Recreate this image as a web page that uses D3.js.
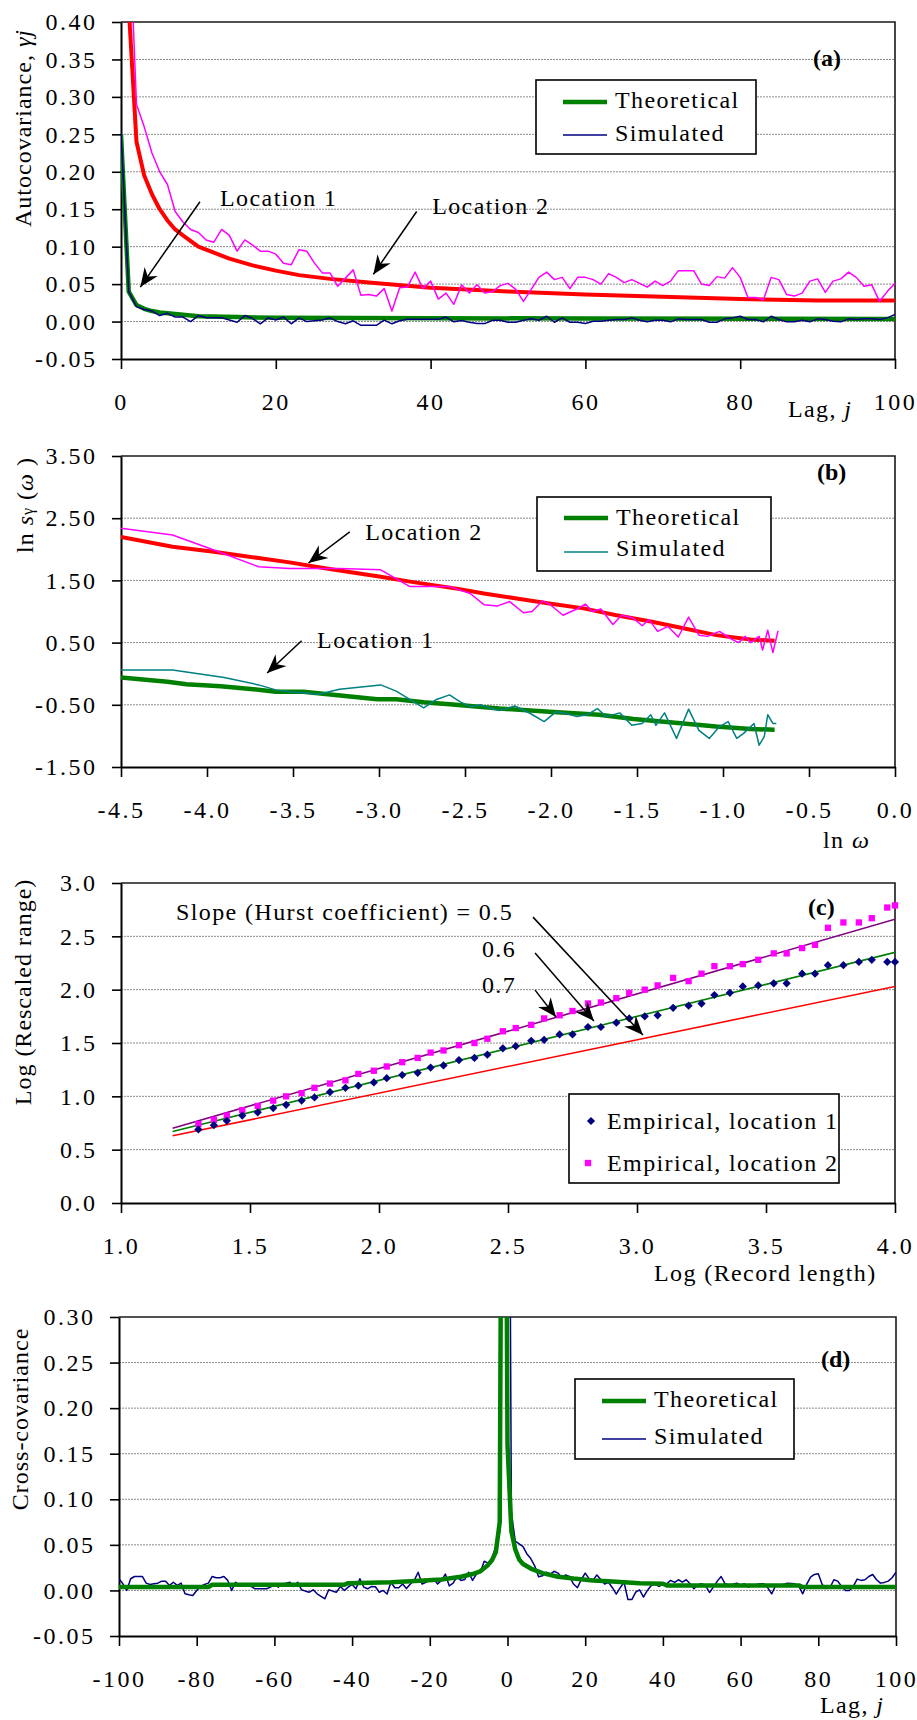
<!DOCTYPE html>
<html>
<head>
<meta charset="utf-8">
<script src="https://cdnjs.cloudflare.com/ajax/libs/d3/7.8.5/d3.min.js"></script>
<style>
  body { margin: 0; background: #fff; }
  svg { display: block; }
  svg text { font-family: "Liberation Serif", "Times New Roman", serif; font-size: 24px; fill: #000; }
</style>
</head>
<body>
<div id="chart"></div>
<script>
// ---------- panel (a): autocovariance ----------
var lagA = d3.range(0, 101);
var theoA1Lag = [0, 1, 2, 3, 4, 5, 6, 8, 10, 15, 20, 40, 60, 100];
var theoA1 = [0.25, 0.04, 0.022, 0.017, 0.014, 0.012, 0.011, 0.009, 0.007, 0.006, 0.005, 0.0045, 0.004, 0.0035];
var theoA2Lag = [0, 1, 2, 3, 4, 5, 6, 7, 8, 10, 12, 14, 17, 20, 23, 27, 32, 40, 50, 60, 70, 80, 90, 100];
var theoA2 = [1.0, 0.42, 0.24, 0.195, 0.17, 0.15, 0.135, 0.123, 0.115, 0.10, 0.092, 0.084, 0.075, 0.068, 0.062, 0.057, 0.052, 0.045, 0.040, 0.036, 0.033, 0.030, 0.028, 0.028];
var simA1 = [0.253, 0.04, 0.02, 0.016, 0.014, 0.008, 0.011, 0.006, 0.006, 0.0,
  0.008, 0.005, 0.005, 0.005, 0.002, -0.001, 0.008, 0.004, -0.003, 0.005,
  0.002, 0.006, -0.003, 0.005, 0.0, 0.001, 0.002, 0.005, 0.0, -0.003,
  0.001, -0.005, -0.005, -0.005, 0.002, -0.003, 0.001, 0.003, 0.003, 0.003,
  0.003, 0.003, 0.006,
  -0.0004, 0.0013, -0.0009, -0.0027, -0.0027, 0.0018, 0.0018, -0.0009, -0.0009, 0.0018,
  0.0036, 0.0018, 0.0071, -0.0009, 0.0049, -0.0009, -0.0009, -0.0027, 0.0004, 0.0004,
  0.0018, 0.0027, 0.0027, 0.0049, 0.0018, -0.0004, 0.0018, 0.0018, -0.0004, 0.0036,
  0.0027, 0.0027, 0.0027, -0.0009, -0.0009, 0.0036, 0.0049, 0.0071, 0.0027, 0.0027,
  -0.0004, 0.0071, 0.0027, -0.0004, -0.0004, 0.0018, -0.0004, 0.0036, 0.0027, 0.0004,
  -0.0004, 0.0036, 0.0027, 0.0036, 0.0036, 0.0027, 0.0049, 0.0094];
var simA2 = [1.0, 0.55, 0.29, 0.26, 0.225, 0.20, 0.183, 0.147, 0.133, 0.123,
  0.119, 0.109, 0.106, 0.123, 0.115, 0.094, 0.109, 0.102, 0.094, 0.094,
  0.09, 0.078, 0.076, 0.096, 0.094, 0.078, 0.065, 0.065, 0.047, 0.058,
  0.069, 0.035, 0.036, 0.034, 0.044, 0.014, 0.045, 0.046, 0.066, 0.044,
  0.054, 0.030, 0.038, 0.023, 0.049, 0.038, 0.049, 0.038, 0.040, 0.048,
  0.051, 0.043, 0.027, 0.043, 0.059, 0.066, 0.056, 0.059, 0.044, 0.059,
  0.059, 0.056, 0.050, 0.064, 0.059, 0.052, 0.056, 0.051, 0.046, 0.054,
  0.048, 0.054, 0.068, 0.068, 0.068, 0.050, 0.048, 0.060, 0.058, 0.072,
  0.059, 0.032, 0.032, 0.029, 0.059, 0.056, 0.036, 0.034, 0.038, 0.054,
  0.057, 0.039, 0.054, 0.057, 0.066, 0.059, 0.047, 0.049, 0.027, 0.040,
  0.051];
var xTicksA = [0, 20, 40, 60, 80, 100];
var yTicksA = [-0.05, 0, 0.05, 0.10, 0.15, 0.20, 0.25, 0.30, 0.35, 0.40];

// ---------- panel (b): log spectrum ----------
var theoB1X = [-4.5, -4.23, -4.12, -3.92, -3.73, -3.6, -3.44, -3.34, -3.01, -2.9, -2.74, -2.59, -2.3, -2.01, -1.72, -1.52, -1.23, -1.04, -0.84, -0.7];
var theoB1 = [-0.06, -0.13, -0.17, -0.2, -0.25, -0.29, -0.29, -0.32, -0.41, -0.41, -0.46, -0.49, -0.56, -0.61, -0.66, -0.73, -0.8, -0.85, -0.89, -0.9];
var theoB2X = [-4.5, -4.2, -3.96, -3.7, -3.52, -3.35, -3.23, -2.99, -2.82, -2.53, -2.39, -2.2, -2.01, -1.81, -1.62, -1.42, -1.23, -1.04, -0.84, -0.7];
var theoB2 = [2.20, 2.04, 1.96, 1.86, 1.79, 1.71, 1.66, 1.56, 1.48, 1.36, 1.29, 1.21, 1.13, 1.05, 0.94, 0.84, 0.73, 0.62, 0.55, 0.53];
var simB1X = [-4.5, -4.2, -3.9, -3.7, -3.6, -3.52, -3.35, -3.23, -2.99, -2.9, -2.74, -2.67, -2.59, -2.53, -2.47, -2.41, -2.35, -2.3, -2.21, -2.12,
  -2.04, -1.97, -1.91, -1.85, -1.79, -1.73, -1.68, -1.6, -1.53, -1.47, -1.42, -1.39, -1.34, -1.27, -1.2, -1.14, -1.08, -1.02, -0.97, -0.92,
  -0.88, -0.82, -0.79, -0.76, -0.74, -0.71, -0.69];
var simB1 = [0.06, 0.06, -0.06, -0.18, -0.26, -0.29, -0.33, -0.25, -0.18, -0.28, -0.55, -0.42, -0.34, -0.45, -0.53, -0.5, -0.56, -0.59, -0.52, -0.64,
  -0.77, -0.61, -0.64, -0.69, -0.66, -0.56, -0.69, -0.63, -0.83, -0.8, -0.66, -0.83, -0.63, -1.04, -0.57, -0.91, -1.04, -0.85, -0.77, -1.04,
  -0.96, -0.8, -1.15, -1.01, -0.66, -0.8, -0.8];
var simB2X = [-4.5, -4.2, -3.96, -3.7, -3.52, -3.23, -2.99, -2.82, -2.67, -2.59, -2.47, -2.39, -2.31, -2.24, -2.16, -2.11, -2.05, -2.01, -1.93, -1.85,
  -1.8, -1.76, -1.71, -1.64, -1.59, -1.52, -1.47, -1.43, -1.38, -1.32, -1.26, -1.2, -1.14, -1.09, -1.02, -0.96, -0.91, -0.87, -0.84, -0.79,
  -0.77, -0.74, -0.71, -0.68];
var simB2 = [2.34, 2.23, 1.99, 1.72, 1.69, 1.69, 1.67, 1.40, 1.40, 1.40, 1.29, 1.11, 1.09, 1.16, 0.98, 1.00, 1.17, 1.12, 0.94, 1.04,
  1.12, 1.00, 1.04, 0.79, 0.94, 0.89, 0.77, 0.87, 0.68, 0.76, 0.59, 0.91, 0.62, 0.60, 0.68, 0.57, 0.50, 0.60, 0.50, 0.60,
  0.38, 0.70, 0.34, 0.69];
var xTicksB = [-4.5, -4.0, -3.5, -3.0, -2.5, -2.0, -1.5, -1.0, -0.5, 0.0];
var yTicksB = [-1.5, -0.5, 0.5, 1.5, 2.5, 3.5];

// ---------- panel (c): rescaled range ----------
var logN = [1.30, 1.36, 1.41, 1.47, 1.53, 1.59, 1.64, 1.70, 1.75, 1.81, 1.87, 1.92, 1.98, 2.03, 2.09, 2.15, 2.20, 2.25, 2.31, 2.37,
  2.42, 2.48, 2.53, 2.59, 2.64, 2.70, 2.75, 2.81, 2.86, 2.92, 2.97, 3.03, 3.08, 3.14, 3.20, 3.25, 3.30, 3.36, 3.41, 3.47,
  3.53, 3.58, 3.64, 3.69, 3.74, 3.80, 3.86, 3.91, 3.97, 4.00];
var empC1 = [0.69, 0.73, 0.77, 0.82, 0.85, 0.89, 0.92, 0.96, 0.99, 1.04, 1.08, 1.10, 1.13, 1.17, 1.20, 1.22, 1.27, 1.29, 1.34, 1.36,
  1.39, 1.45, 1.47, 1.52, 1.53, 1.58, 1.58, 1.65, 1.65, 1.69, 1.73, 1.75, 1.76, 1.83, 1.85, 1.87, 1.95, 1.97, 2.03, 2.04,
  2.06, 2.06, 2.15, 2.15, 2.23, 2.23, 2.26, 2.28, 2.26, 2.26];
var empC2 = [0.74, 0.78, 0.82, 0.87, 0.91, 0.96, 1.00, 1.03, 1.08, 1.12, 1.15, 1.21, 1.24, 1.28, 1.32, 1.36, 1.41, 1.43, 1.48, 1.50,
  1.54, 1.61, 1.64, 1.67, 1.73, 1.76, 1.80, 1.87, 1.88, 1.92, 1.97, 2.00, 2.04, 2.11, 2.08, 2.15, 2.22, 2.22, 2.24, 2.28,
  2.34, 2.34, 2.39, 2.42, 2.58, 2.63, 2.63, 2.67, 2.77, 2.79];
var slopeX = [1.2, 4.0];
var slope05 = [0.63, 2.03];
var slope06 = [0.67, 2.35];
var slope07 = [0.70, 2.66];
var xTicksC = [1.0, 1.5, 2.0, 2.5, 3.0, 3.5, 4.0];
var yTicksC = [0.0, 0.5, 1.0, 1.5, 2.0, 2.5, 3.0];

// ---------- panel (d): cross-covariance ----------
var lagD = d3.range(-100, 101);
var theoDLag = [-100, -77, -76, -42, -41, -30, -25, -17, -12, -9, -7, -5, -4, -3, -2, -1, 0, 1, 2, 3, 4, 6, 9, 13, 17, 22, 26, 30, 34, 40, 41, 75, 76, 100];
var theoD = [0.0037, 0.0037, 0.0062, 0.0062, 0.008, 0.009, 0.010, 0.012, 0.015, 0.018, 0.021, 0.028, 0.033, 0.042, 0.075, 1.0, 0.16, 0.065, 0.045, 0.034, 0.029, 0.024, 0.019, 0.015, 0.013, 0.011, 0.010, 0.009, 0.008, 0.0073, 0.0055, 0.0055, 0.0037, 0.0037];
var simD = [0.0128, 0.0073, 0.0, 0.0128, 0.0153, 0.0153, 0.0153, 0.008, 0.0066, 0.0073,
  0.008, 0.0102, 0.0102, 0.0055, 0.009, 0.0055, 0.008, -0.0037, -0.0048, -0.0055,
  0.0, 0.0044, 0.0066, 0.008, 0.0153, 0.0139, 0.0139, 0.0153, 0.011, 0.0,
  0.009, 0.0055, 0.0073, 0.0055, 0.0044, 0.0018, 0.0018, 0.0018, 0.0018, 0.0036,
  0.0066, 0.0036, 0.0073, 0.008, 0.009, 0.0044, 0.009, 0.0007, -0.0008, -0.0019,
  0.0007, -0.0037, -0.0066, -0.0092, 0.0007, -0.0008, -0.0019, 0.0044, 0.0, 0.0036,
  0.0066, 0.0018, 0.0128, 0.0036, 0.0018, 0.0044,
  0.004, -0.002, 0.0, -0.004, 0.009, 0.003, 0.003, 0.007, 0.002, 0.007,
  0.011, 0.020, 0.007, 0.009, 0.011, 0.013, 0.007, 0.011, 0.018, 0.005,
  0.008, 0.015, 0.011, 0.012, 0.020, 0.011, 0.018, 0.020, 0.032, 0.030,
  0.036, 0.048, 0.064, 0.85,
  0.95,
  0.085, 0.054, 0.051, 0.048, 0.040, 0.035, 0.027, 0.015, 0.016, 0.020,
  0.018, 0.021, 0.019, 0.014, 0.017, 0.015, 0.007, 0.003, 0.012, 0.019,
  0.013, 0.011, 0.017, 0.012, 0.007, 0.009, 0.003, -0.004, 0.003, 0.009,
  -0.010, -0.010,
  -0.0019, 0.0007, -0.0073, 0.0, 0.0055, 0.0066, 0.0044, 0.0066, 0.0073, 0.011,
  0.0088, 0.0117, 0.0091, 0.0117, 0.0073, 0.0018, 0.0062, 0.0073, 0.0051, -0.0022,
  0.0036, 0.0102, 0.0153, 0.0073, 0.0062, 0.0069, 0.008, 0.0058, 0.0073, 0.0036,
  0.0055, 0.0062, 0.0073, 0.0073, 0.0029, -0.0037, 0.0051, 0.0044, 0.0066, 0.008,
  0.0077, 0.0073, 0.0044, -0.0037, 0.0066, 0.0146, 0.0175, 0.0183, 0.0066, 0.0022,
  0.0029, 0.0117, 0.0102, 0.0044, 0.0, 0.0, 0.0044, 0.0124, 0.011, 0.0117,
  0.0153, 0.0175, 0.0117, 0.008, 0.0088, 0.0102, 0.0139, 0.020];
var xTicksD = [-100, -80, -60, -40, -20, 0, 20, 40, 60, 80, 100];
var yTicksD = [-0.05, 0, 0.05, 0.10, 0.15, 0.20, 0.25, 0.30];

// ---------- drawing ----------
var svg = d3.select("#chart").append("svg").attr("width", 917).attr("height", 1720);
var defs = svg.append("defs");
defs.append("marker")
    .attr("id", "arrow")
    .attr("viewBox", "-21 -10 23 20")
    .attr("refX", 0).attr("refY", 0)
    .attr("markerWidth", 23).attr("markerHeight", 20)
    .attr("markerUnits", "userSpaceOnUse")
    .attr("orient", "auto")
  .append("path")
    .attr("d", "M0,0 L-19,-8 L-13,0 L-19,8 Z")
    .attr("fill", "#000");

var xA = d3.scaleLinear().domain([0, 100]).range([121, 895]);
var yA = d3.scaleLinear().domain([-0.05, 0.40]).range([359, 22]);
var xB = d3.scaleLinear().domain([-4.5, 0]).range([121, 895]);
var yB = d3.scaleLinear().domain([-1.5, 3.5]).range([767, 456]);
var xC = d3.scaleLinear().domain([1, 4]).range([121, 895]);
var yC = d3.scaleLinear().domain([0, 3]).range([1203, 883]);
var xD = d3.scaleLinear().domain([-100, 100]).range([119, 896]);
var yD = d3.scaleLinear().domain([-0.05, 0.30]).range([1636, 1317]);

function frame(name, x, y, xt, yt, grid, xf, yf) {
  var x0 = x.range()[0], x1 = x.range()[1];
  var y0 = y.range()[0], y1 = y.range()[1];
  var g = svg.append("g");

  g.selectAll("line.grid").data(grid).enter().append("line")
    .attr("class", "grid")
    .attr("x1", x0).attr("x2", x1)
    .attr("y1", function(d) { return y(d); })
    .attr("y2", function(d) { return y(d); })
    .attr("stroke", "#8a8a8a").attr("stroke-width", 1).attr("stroke-dasharray", "2,1");

  g.append("path")
    .attr("d", "M" + x0 + "," + y1 + "H" + x1 + "V" + y0)
    .attr("fill", "none").attr("stroke", "#1a1a1a").attr("stroke-width", 1.6);

  defs.append("clipPath").attr("id", "clip-" + name)
    .append("rect").attr("x", x0).attr("y", y1).attr("width", x1 - x0).attr("height", y0 - y1);

  var ax = g.append("g").attr("transform", "translate(0," + y0 + ")")
    .call(d3.axisBottom(x).tickValues(xt).tickFormat(xf).tickSize(10).tickSizeOuter(0).tickPadding(24));
  var ay = g.append("g").attr("transform", "translate(" + x0 + ",0)")
    .call(d3.axisLeft(y).tickValues(yt).tickFormat(yf).tickSize(9).tickSizeOuter(0).tickPadding(14.5));
  [ax, ay].forEach(function(a) {
    a.select(".domain").attr("stroke", "#000").attr("stroke-width", 2);
    a.selectAll(".tick line").attr("stroke", "#000").attr("stroke-width", 1.6);
    a.selectAll(".tick text")
      .attr("font-family", "Liberation Serif, serif")
      .attr("font-size", 24)
      .attr("letter-spacing", 2.5)
      .attr("fill", "#000");
  });
  return svg.append("g").attr("clip-path", "url(#clip-" + name + ")");
}

function series(g, xs, ys, x, y, color, width) {
  var pts = xs.map(function(d, i) { return [d, ys[i]]; });
  g.append("path")
    .datum(pts)
    .attr("fill", "none")
    .attr("stroke", color)
    .attr("stroke-width", width)
    .attr("stroke-linejoin", "round")
    .attr("d", d3.line().x(function(d) { return x(d[0]); }).y(function(d) { return y(d[1]); }));
}

function label(x, y, parts, opts) {
  opts = opts || {};
  var t = svg.append("text")
    .attr("x", x).attr("y", y)
    .attr("letter-spacing", opts.ls === undefined ? 1.4 : opts.ls)
    .attr("font-weight", opts.bold ? "bold" : null)
    .attr("text-anchor", opts.anchor || "start");
  if (opts.rotate) t.attr("transform", "rotate(-90," + x + "," + y + ")");
  parts.forEach(function(p) {
    var s = t.append("tspan").text(p.t);
    if (p.i) s.attr("font-style", "italic");
    if (p.fs) s.attr("font-size", p.fs);
  });
  return t;
}

function arrow(x, y, a) {
  svg.append("line")
    .attr("x1", x(a[0])).attr("y1", y(a[1]))
    .attr("x2", x(a[2])).attr("y2", y(a[3]))
    .attr("stroke", "#000").attr("stroke-width", 1.5)
    .attr("marker-end", "url(#arrow)");
}

function legendBox(x0, y0, w, h) {
  svg.append("rect").attr("x", x0).attr("y", y0).attr("width", w).attr("height", h)
    .attr("fill", "#fff").attr("stroke", "#000").attr("stroke-width", 1.6);
}

function lineLegend(x0, y0, w, h, l1, l2, simColor) {
  legendBox(x0, y0, w, h);
  var rows = [
    { name: "Theoretical", color: "#008000", width: 4.5, ly: l1[0], ty: l1[1] },
    { name: "Simulated", color: simColor, width: 1.6, ly: l2[0], ty: l2[1] }
  ];
  rows.forEach(function(r) {
    svg.append("line")
      .attr("x1", x0 + 27).attr("x2", x0 + 71)
      .attr("y1", r.ly).attr("y2", r.ly)
      .attr("stroke", r.color).attr("stroke-width", r.width);
    label(x0 + 79, r.ty, [{ t: r.name }]);
  });
}

var fmt2 = function(d) { return d.toFixed(2); };
var fmt1 = function(d) { return d.toFixed(1); };
var fmt0 = function(d) { return String(d); };

// ----- (a) -----
var gA = frame("a", xA, yA, xTicksA, yTicksA, [0, 0.05, 0.10, 0.15, 0.20, 0.25, 0.30, 0.35], fmt0, fmt2);
series(gA, theoA2Lag, theoA2, xA, yA, "#ff0000", 4);
series(gA, lagA, simA2, xA, yA, "#ff00ff", 1.5);
series(gA, theoA1Lag, theoA1, xA, yA, "#008000", 4.5);
series(gA, lagA, simA1, xA, yA, "#000080", 1.5);
lineLegend(536, 80, 220, 74, [102, 108], [135, 141], "#000080");
label(813, 66, [{ t: "(a)" }], { bold: true, ls: 0 });
label(xA(12.8), yA(0.154), [{ t: "Location 1" }]);
arrow(xA, yA, [10.2, 0.160, 2.5, 0.046]);
label(xA(40.2), yA(0.143), [{ t: "Location 2" }]);
arrow(xA, yA, [38.2, 0.147, 32.6, 0.063]);
label(31, 128, [{ t: "Autocovariance, " }, { t: "γj", i: true }], { rotate: true, anchor: "middle", ls: 1 });
label(788, 417, [{ t: "Lag, " }, { t: "j", i: true }]);

// ----- (b) -----
var gB = frame("b", xB, yB, xTicksB, yTicksB, [-0.5, 0.5, 1.5, 2.5], fmt1, fmt2);
series(gB, theoB2X, theoB2, xB, yB, "#ff0000", 4);
series(gB, simB2X, simB2, xB, yB, "#ff00ff", 1.5);
series(gB, theoB1X, theoB1, xB, yB, "#008000", 4.5);
series(gB, simB1X, simB1, xB, yB, "#008080", 1.5);
lineLegend(537, 497, 234, 74, [518, 525], [552, 556], "#008080");
label(817, 480, [{ t: "(b)" }], { bold: true, ls: 0 });
label(xB(-3.08), yB(2.15), [{ t: "Location 2" }]);
arrow(xB, yB, [-3.17, 2.28, -3.41, 1.78]);
label(xB(-3.36), yB(0.41), [{ t: "Location 1" }]);
arrow(xB, yB, [-3.45, 0.53, -3.65, 0.01]);
label(33, 505, [{ t: "ln " }, { t: "s", i: true }, { t: "γ", fs: 16 }, { t: " (" }, { t: "ω", i: true }, { t: " )" }], { rotate: true, anchor: "middle", ls: 1 });
label(823, 848, [{ t: "ln " }, { t: "ω", i: true }]);

// ----- (c) -----
var gC = frame("c", xC, yC, xTicksC, yTicksC, [0.5, 1.0, 1.5, 2.0, 2.5], fmt1, fmt1);
series(gC, slopeX, slope05, xC, yC, "#ff0000", 1.6);
series(gC, slopeX, slope06, xC, yC, "#008000", 1.6);
series(gC, slopeX, slope07, xC, yC, "#800080", 1.6);
svg.append("g").selectAll("path.m2").data(logN).enter().append("path")
  .attr("d", d3.symbol(d3.symbolSquare).size(40))
  .attr("transform", function(d, i) { return "translate(" + xC(d) + "," + yC(empC2[i]) + ")"; })
  .attr("fill", "#ff00ff");
svg.append("g").selectAll("path.m1").data(logN).enter().append("path")
  .attr("d", d3.symbol(d3.symbolSquare).size(34))
  .attr("transform", function(d, i) { return "translate(" + xC(d) + "," + yC(empC1[i]) + ") rotate(45)"; })
  .attr("fill", "#000080");
label(xC(1.213), yC(2.652), [{ t: "Slope (Hurst coefficient) = 0.5" }]);
label(xC(2.399), yC(2.306), [{ t: "0.6" }]);
label(xC(2.399), yC(1.968), [{ t: "0.7" }]);
arrow(xC, yC, [2.597, 2.680, 3.023, 1.575]);
arrow(xC, yC, [2.605, 2.343, 2.833, 1.706]);
arrow(xC, yC, [2.605, 1.996, 2.686, 1.743]);
label(808, 915, [{ t: "(c)" }], { bold: true, ls: 0 });
legendBox(569, 1094, 270, 89);
svg.append("path").attr("d", d3.symbol(d3.symbolSquare).size(34))
  .attr("transform", "translate(591,1121) rotate(45)").attr("fill", "#000080");
svg.append("path").attr("d", d3.symbol(d3.symbolSquare).size(40))
  .attr("transform", "translate(588,1163)").attr("fill", "#ff00ff");
label(607, 1129, [{ t: "Empirical, location 1" }]);
label(607, 1171, [{ t: "Empirical, location 2" }]);
label(31, 992, [{ t: "Log (Rescaled range)" }], { rotate: true, anchor: "middle", ls: 1 });
label(654, 1281, [{ t: "Log (Record length)" }]);

// ----- (d) -----
var gD = frame("d", xD, yD, xTicksD, yTicksD, [0, 0.05, 0.10, 0.15, 0.20, 0.25], fmt0, fmt2);
series(gD, lagD, simD, xD, yD, "#000080", 1.5);
series(gD, theoDLag, theoD, xD, yD, "#008000", 4.5);
lineLegend(575, 1379, 219, 80, [1401, 1407], [1439, 1444], "#000080");
label(821, 1367, [{ t: "(d)" }], { bold: true, ls: 0 });
label(28, 1419, [{ t: "Cross-covariance" }], { rotate: true, anchor: "middle", ls: 1 });
label(820, 1713, [{ t: "Lag, " }, { t: "j", i: true }]);
</script>
</body>
</html>
